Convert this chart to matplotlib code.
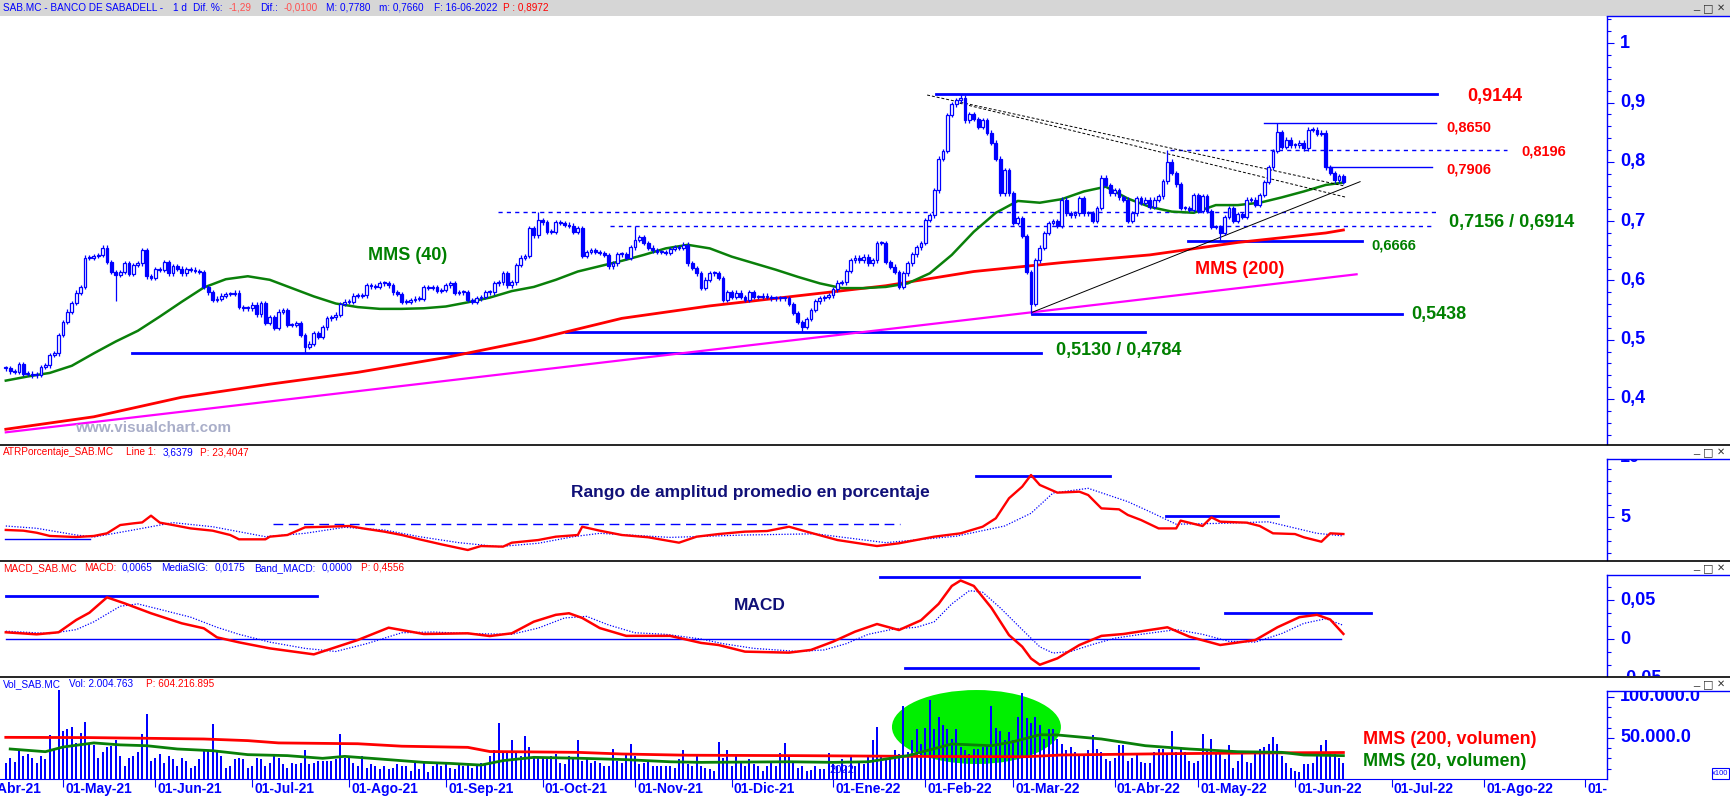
import matplotlib
matplotlib.use("Agg")
import matplotlib.pyplot as plt
import matplotlib.transforms as mtransforms
from matplotlib.patches import Ellipse, Rectangle
from matplotlib.lines import Line2D
import numpy as np
import pandas as pd

W, H = 1730, 799
BLUE, RED, GREEN, NAVY, MAG = "#0000ff", "#ff0000", "#008000", "#101078", "#ff00ff"
FONT = "Liberation Sans"

# ---------------- data ----------------
# daily closes, 14-Apr-2021 .. 16-Jun-2022 (bar 0 .. 304)
closes = [
    0.452, 0.447, 0.446, 0.459, 0.442, 0.443, 0.440, 0.441, 0.454, 0.457,
    0.474, 0.477, 0.508, 0.530, 0.547, 0.562, 0.579, 0.589, 0.638, 0.638,
    0.641, 0.643, 0.655, 0.631, 0.614, 0.609, 0.614, 0.629, 0.611, 0.626,
    0.629, 0.651, 0.607, 0.604, 0.619, 0.618, 0.631, 0.612, 0.624, 0.620,
    0.612, 0.619, 0.618, 0.616, 0.614, 0.589, 0.580, 0.567, 0.569, 0.574,
    0.577, 0.577, 0.579, 0.555, 0.553, 0.553, 0.559, 0.543, 0.562, 0.528,
    0.538, 0.520, 0.547, 0.550, 0.525, 0.525, 0.528, 0.508, 0.488, 0.493,
    0.511, 0.505, 0.521, 0.536, 0.538, 0.542, 0.560, 0.564, 0.564, 0.574,
    0.574, 0.575, 0.592, 0.590, 0.589, 0.595, 0.595, 0.592, 0.580, 0.577,
    0.564, 0.564, 0.567, 0.569, 0.569, 0.589, 0.587, 0.589, 0.582, 0.584,
    0.592, 0.595, 0.579, 0.580, 0.580, 0.567, 0.564, 0.570, 0.572, 0.580,
    0.580, 0.595, 0.597, 0.612, 0.592, 0.597, 0.626, 0.638, 0.641, 0.688,
    0.676, 0.702, 0.698, 0.682, 0.682, 0.698, 0.697, 0.694, 0.692, 0.682,
    0.688, 0.641, 0.648, 0.651, 0.648, 0.646, 0.643, 0.624, 0.629, 0.644,
    0.644, 0.638, 0.656, 0.668, 0.673, 0.663, 0.655, 0.651, 0.648, 0.648,
    0.646, 0.653, 0.656, 0.655, 0.660, 0.629, 0.621, 0.612, 0.587, 0.601,
    0.612, 0.612, 0.604, 0.567, 0.580, 0.572, 0.579, 0.572, 0.567, 0.580,
    0.572, 0.572, 0.574, 0.572, 0.570, 0.570, 0.570, 0.570, 0.560, 0.545,
    0.530, 0.522, 0.535, 0.550, 0.565, 0.570, 0.572, 0.575, 0.585, 0.596,
    0.597, 0.616, 0.634, 0.638, 0.634, 0.640, 0.629, 0.634, 0.663, 0.663,
    0.631, 0.623, 0.614, 0.589, 0.612, 0.629, 0.644, 0.656, 0.663, 0.702,
    0.710, 0.752, 0.805, 0.818, 0.879, 0.897, 0.904, 0.908, 0.870, 0.880,
    0.872, 0.859, 0.870, 0.849, 0.832, 0.805, 0.747, 0.786, 0.747, 0.697,
    0.705, 0.675, 0.614, 0.560, 0.634, 0.655, 0.680, 0.697, 0.700, 0.692,
    0.736, 0.713, 0.710, 0.713, 0.739, 0.713, 0.713, 0.700, 0.722, 0.773,
    0.761, 0.747, 0.752, 0.740, 0.736, 0.700, 0.713, 0.739, 0.731, 0.736,
    0.724, 0.736, 0.742, 0.767, 0.800, 0.781, 0.762, 0.722, 0.722, 0.719,
    0.744, 0.717, 0.742, 0.717, 0.690, 0.690, 0.680, 0.707, 0.722, 0.700,
    0.712, 0.707, 0.736, 0.736, 0.727, 0.744, 0.766, 0.791, 0.818, 0.850,
    0.825, 0.837, 0.828, 0.828, 0.832, 0.823, 0.854, 0.854, 0.847, 0.849,
    0.791, 0.781, 0.769, 0.776, 0.766,
]
# extreme wicks marked on the chart
spike_hi = {121: 0.7156, 143: 0.6914, 217: 0.9144, 264: 0.8196, 289: 0.8650}
spike_lo = {25: 0.565, 68: 0.4784, 181: 0.5130, 233: 0.5438, 276: 0.6666}

# volume (axis units, x100)
vol = [
    20, 25, 21, 35, 28, 30, 26, 20, 28, 24, 54, 37, 108, 59, 61, 63, 44, 56, 69, 43,
    41, 26, 33, 39, 40, 47, 28, 16, 26, 28, 33, 55, 79, 22, 26, 30, 20, 28, 24, 16,
    26, 22, 13, 16, 24, 37, 35, 67, 35, 28, 14, 16, 24, 25, 24, 14, 16, 26, 24, 16,
    20, 30, 26, 18, 14, 20, 18, 20, 35, 18, 20, 22, 22, 22, 22, 24, 55, 26, 26, 20,
    16, 28, 14, 18, 16, 12, 16, 12, 14, 18, 16, 16, 10, 20, 12, 22, 8, 16, 20, 16,
    18, 14, 12, 20, 16, 17, 14, 16, 20, 20, 28, 35, 68, 33, 33, 47, 33, 28, 52, 39,
    28, 26, 26, 24, 28, 30, 20, 18, 28, 26, 48, 22, 24, 20, 22, 20, 16, 16, 36, 22,
    20, 29, 43, 28, 18, 20, 22, 16, 16, 16, 16, 16, 14, 24, 35, 18, 16,
    28, 16, 14, 12, 10, 45, 25, 35, 16, 28, 20, 16, 24, 18, 16, 10, 16, 20, 16, 32,
    44, 29, 20, 14, 16, 10, 11, 16, 12, 12, 32, 18, 16, 24, 16, 29, 16, 22, 18, 28,
    48, 63, 28, 24, 28, 35, 31, 89, 33, 48, 61, 43, 62, 96, 61, 76, 66, 61, 49, 61,
    39, 35, 31, 37, 37, 39, 41, 89, 62, 59, 47, 57, 47, 75, 105, 74, 68, 75, 66, 49,
    61, 61, 49, 43, 35, 39, 33, 28, 28, 35, 54, 37, 33, 24, 22, 25, 41, 41, 22, 25,
    32, 21, 20, 20, 33, 37, 37, 31, 59, 33, 39, 33, 22, 20, 22, 55, 37, 49, 33, 33,
    24, 41, 14, 22, 33, 21, 20, 32, 37, 39, 43, 51, 43, 28, 20, 14, 10, 8, 18, 18,
    20, 28, 41, 47, 33, 31, 25, 20,
]

# moving averages and indicators, sampled along the bars
mms40_i = list(range(0, 301, 5)) + [304]
mms40 = [0.431, 0.438, 0.444, 0.456, 0.477, 0.497, 0.515, 0.539, 0.564, 0.588,
         0.602, 0.607, 0.601, 0.587, 0.573, 0.561, 0.555, 0.552, 0.552, 0.553,
         0.556, 0.563, 0.571, 0.582, 0.589, 0.601, 0.615, 0.624, 0.633, 0.643,
         0.654, 0.660, 0.654, 0.640, 0.629, 0.618, 0.606, 0.595, 0.587, 0.587,
         0.589, 0.595, 0.612, 0.643, 0.682, 0.714, 0.734, 0.731, 0.737, 0.750,
         0.758, 0.738, 0.724, 0.716, 0.714, 0.727, 0.727, 0.731, 0.740, 0.750,
         0.761, 0.765]
mms200_i = [0, 20, 40, 60, 80, 100, 120, 140, 160, 180, 200, 220, 240, 260, 280, 300, 304]
mms200 = [0.349, 0.370, 0.403, 0.425, 0.445, 0.470, 0.500, 0.536, 0.557, 0.574,
          0.591, 0.615, 0.630, 0.643, 0.664, 0.680, 0.685]

atr_i = [0, 4, 7, 10, 16, 20, 23, 26, 29, 31, 33, 35, 38, 42, 47, 51, 53, 59, 60, 64,
         68, 73, 78, 81, 86, 90, 94, 99, 105, 108, 113, 115, 121, 125, 130, 131, 135,
         140, 146, 153, 157, 162, 168, 173, 178, 182, 189, 198, 203, 211, 217, 222,
         225, 228, 231, 233, 235, 239, 244, 246, 249, 253, 255, 258, 262, 266, 267,
         272, 274, 276, 282, 285, 288, 293, 295, 299, 301, 304]
atr = [3.92, 3.86, 3.69, 3.42, 3.33, 3.42, 3.64, 4.33, 4.47, 4.55, 5.11, 4.53, 4.33,
       4.05, 3.86, 3.50, 3.14, 3.14, 3.36, 3.50, 4.14, 4.19, 4.25, 4.06, 3.78, 3.50,
       3.14, 2.72, 2.25, 2.58, 2.53, 2.86, 3.08, 3.36, 3.50, 4.19, 3.86, 3.50, 3.31,
       2.86, 3.36, 3.58, 3.78, 3.83, 4.19, 3.78, 3.08, 2.58, 2.81, 3.36, 3.64, 4.19,
       4.89, 6.56, 7.53, 8.50, 7.67, 7.03, 7.11, 6.83, 5.72, 5.64, 5.17, 4.75, 4.05,
       4.05, 4.70, 4.25, 4.97, 4.61, 4.53, 4.25, 3.64, 3.58, 3.31, 2.94, 3.64, 3.58]
atr_avg_i = [0, 7, 16, 20, 29, 38, 47, 59, 68, 77, 86, 94, 103, 112, 121, 129, 135,
             151, 168, 184, 200, 216, 227, 233, 238, 246, 255, 260, 266, 276, 287,
             298, 304]
atr_avg = [4.25, 4.06, 3.50, 3.33, 3.92, 4.53, 4.19, 3.36, 3.64, 4.14, 3.92, 3.36,
           2.86, 2.53, 2.81, 3.36, 3.64, 3.30, 3.50, 3.60, 2.86, 3.40, 4.25, 5.31,
           7.00, 7.39, 6.28, 5.44, 4.40, 4.47, 4.60, 3.64, 3.42]

macd_i = [0, 7, 12, 16, 19, 23, 27, 33, 40, 45, 48, 53, 60, 70, 80, 87, 95, 105, 110,
          115, 120, 125, 128, 131, 135, 141, 151, 158, 162, 168, 178, 183, 188, 193,
          198, 203, 208, 212, 215, 217, 220, 224, 228, 231, 233, 235, 239, 244, 249,
          254, 264, 269, 276, 284, 289, 294, 298, 301, 304]
macd = [0.0086, 0.0060, 0.0086, 0.0244, 0.0337, 0.0534, 0.0457, 0.0330, 0.0201,
        0.0137, 0.0021, -0.0043, -0.0120, -0.0197, -0.0013, 0.0145, 0.0064, 0.0073,
        0.0038, 0.0073, 0.0222, 0.0310, 0.0330, 0.0270, 0.0140, 0.0040, 0.0040,
        -0.0050, -0.0077, -0.0162, -0.0175, -0.0140, -0.0034, 0.0094, 0.0192, 0.0115,
        0.0240, 0.0450, 0.0680, 0.0750, 0.0680, 0.0400, 0.0050, -0.0098, -0.0250,
        -0.0330, -0.0248, -0.0077, 0.0040, 0.0064, 0.0150, 0.0030, -0.0077, -0.0013,
        0.0150, 0.0280, 0.0310, 0.0250, 0.0065]
sig_i = [0, 10, 16, 20, 26, 30, 35, 42, 48, 53, 60, 68, 75, 82, 90, 97, 105, 115, 121,
         127, 132, 137, 143, 150, 158, 163, 170, 180, 186, 191, 196, 202, 207, 211,
         215, 219, 222, 226, 231, 235, 238, 242, 247, 252, 258, 266, 272, 278, 284,
         290, 295, 300, 304]
sig = [0.0100, 0.0070, 0.0120, 0.0220, 0.0420, 0.0450, 0.0380, 0.0280, 0.0150,
       0.0060, -0.0040, -0.0120, -0.0160, -0.0060, 0.0080, 0.0090, 0.0070, 0.0060,
       0.0140, 0.0270, 0.0290, 0.0180, 0.0080, 0.0060, 0.0000, -0.0060, -0.0120,
       -0.0160, -0.0140, -0.0060, 0.0060, 0.0130, 0.0150, 0.0220, 0.0450, 0.0620,
       0.0600, 0.0400, 0.0120, -0.0100, -0.0180, -0.0160, -0.0070, 0.0010, 0.0060,
       0.0120, 0.0060, -0.0030, -0.0040, 0.0070, 0.0200, 0.0260, 0.0175]

vol200_i = [0, 19, 45, 55, 62, 80, 90, 105, 110, 130, 140, 155, 180, 210, 232, 240, 265, 292, 304]
vol200 = [50.8, 50.5, 48.8, 46.8, 44.0, 43.0, 40.0, 38.6, 33.5, 32.5, 30.5, 29.0,
          28.5, 27.5, 27.2, 29.3, 30.9, 32.0, 32.3]
vol20_i = [1, 9, 13, 20, 26, 32, 39, 47, 55, 64, 72, 77, 85, 95, 101, 108, 113, 120,
           131, 141, 151, 158, 178, 188, 196, 205, 215, 224, 229, 235, 239, 249, 259,
           269, 280, 290, 295, 304]
vol20 = [36.6, 33.3, 39.0, 44.0, 41.6, 40.6, 36.6, 34.5, 29.7, 28.5, 25.2, 27.6,
         24.4, 20.3, 19.0, 17.0, 22.4, 26.4, 25.2, 23.6, 21.0, 20.3, 21.0, 20.3, 21.0,
         28.5, 42.7, 40.6, 45.5, 54.0, 53.7, 48.8, 40.6, 36.6, 33.3, 32.5, 29.3, 28.5]

price_ticks = [0.4, 0.5, 0.6, 0.7, 0.8, 0.9, 1.0]
price_labels = ["0,4", "0,5", "0,6", "0,7", "0,8", "0,9", "1"]
atr_ticks, atr_labels = [5, 10], ["5", "10"]
macd_ticks, macd_labels = [-0.05, 0.0, 0.05], ["-0,05", "0", "0,05"]
vol_ticks, vol_labels = [50, 100], ["50.000.0", "100.000.0"]
MESES = ["Ene", "Feb", "Mar", "Abr", "May", "Jun", "Jul", "Ago", "Sep", "Oct", "Nov", "Dic"]

# trading calendar (bar 0 = 14-Apr-2021)
holidays = pd.to_datetime(["2021-04-02", "2021-04-05", "2022-04-15", "2022-04-18"])
days = pd.bdate_range("2021-04-01", "2022-09-30")
days = days[~days.isin(holidays)]
pos = np.arange(len(days)) - days.get_loc(pd.Timestamp("2021-04-14"))
mon = np.asarray(days.month)
first = np.r_[True, mon[1:] != mon[:-1]]
month_pos = pos[first]
month_lab = ["01-%s-%s" % (MESES[d.month - 1], d.strftime("%y")) for d in days[first]]

# ---------------- figure ----------------
fig = plt.figure(figsize=(W / 100, H / 100), dpi=100)
fig.patch.set_facecolor("white")


def fx(x):
    return x / W


def fy(y):
    return 1 - y / H


def ftext(x, y, s, color, size, bold=True, ha="left", va="center", family=FONT):
    return fig.text(fx(x), fy(y), s, color=color, fontsize=size, ha=ha, va=va,
                    fontweight="bold" if bold else "normal", family=family)


def fline(x0, x1, y0, y1, color, lw=1.0):
    fig.add_artist(Line2D([fx(x0), fx(x1)], [fy(y0), fy(y1)], transform=fig.transFigure,
                          color=color, lw=lw))


XL = (-5.8 / 4.4, (1607 - 5.8) / 4.4)


def panel(y0, y1, ylim, spine_top, major, minor, clip_top, labels):
    ax = fig.add_axes([0, fy(y1), fx(1607), (y1 - y0) / H])
    ax.set_xlim(*XL)
    ax.set_ylim(*ylim)
    for s in ax.spines.values():
        s.set_visible(False)
    sp = ax.spines["right"]
    sp.set_visible(True)
    sp.set_color(BLUE)
    sp.set_linewidth(1.0)
    top_val = ylim[0] + (y1 - spine_top) / (y1 - y0) * (ylim[1] - ylim[0])
    sp.set_bounds(ylim[0], top_val)
    ax.yaxis.tick_right()
    ax.set_yticks([t for t in major if ylim[0] <= t <= top_val])
    ax.set_yticks([t for t in minor if ylim[0] <= t <= top_val], minor=True)
    ax.tick_params(axis="y", which="major", length=5, width=0.8, color=BLUE,
                   labelright=False, direction="out")
    ax.tick_params(axis="y", which="minor", length=3, width=0.8, color=BLUE, direction="out")
    ax.set_xticks([])
    ax.set_ylim(*ylim)
    fline(1607, 1730, spine_top, spine_top, BLUE, 1.0)
    tr = mtransforms.blended_transform_factory(fig.transFigure, ax.transData)
    clip = mtransforms.TransformedBbox(
        mtransforms.Bbox.from_extents(fx(1607), fy(y1), 1.0, fy(clip_top)), fig.transFigure)
    for v, s in zip(major, labels):
        t = fig.text(fx(1620), v, s, transform=tr, color=BLUE, fontsize=13,
                     fontweight="bold", family=FONT, ha="left", va="center")
        t.set_clip_box(clip)
        t.set_clip_on(True)
    return ax


def p_of(y):
    return 0.4 + (399 - y) / 593


def a_of(y):
    return 5 + (517 - y) / 12


def m_of(y):
    return (639 - y) / 780


def v_of(y):
    return (779 - y) * 1.2195


ax_p = panel(17, 444, (p_of(444), p_of(17)), 16, price_ticks,
             np.arange(0.34, 1.05, 0.02), 16, price_labels)
ax_a = panel(446, 560, (a_of(560), a_of(446)), 459, atr_ticks,
             np.arange(2, 11, 1.0), 459, atr_labels)
ax_m = panel(562, 676, (m_of(676), m_of(562)), 575, macd_ticks,
             np.arange(-0.05, 0.1, 0.05 / 3), 575, macd_labels)
ax_v = panel(678, 779, (0, v_of(678)), 691, vol_ticks,
             np.arange(12.5, 115, 12.5), 691, vol_labels)

# ---------------- price panel ----------------
c = np.array(closes)
o = np.r_[c[0], c[:-1]]
idx = np.arange(len(c))
top = np.maximum(o, c)
bot = np.minimum(o, c)
hi = top + 0.004
lo = bot - 0.004
for k, v in spike_hi.items():
    hi[k] = v
for k, v in spike_lo.items():
    lo[k] = v
up = c >= o
ax_p.vlines(idx, lo, hi, color=BLUE, lw=0.9, zorder=4)
body = np.maximum(top - bot, 0.002)
ax_p.bar(idx[up], body[up], bottom=bot[up], width=0.62, facecolor="white",
         edgecolor=BLUE, linewidth=0.9, zorder=5)
ax_p.bar(idx[~up], body[~up], bottom=bot[~up], width=0.62, facecolor=BLUE,
         edgecolor=BLUE, linewidth=0.9, zorder=5)

ax_p.plot(mms200_i, mms200, color=RED, lw=2.0, zorder=3)
ax_p.plot(mms40_i, mms40, color="#0a800a", lw=1.8, zorder=3)
ax_p.plot([0, 307], [0.3438, 0.6103], color=MAG, lw=1.6, zorder=3)
ax_p.plot([233.2, 307.8], [0.546, 0.7665], color="black", lw=0.7, zorder=3)
ax_p.plot([209.4, 304.4], [0.9126, 0.759], color="black", lw=0.7, ls=(0, (3, 2)), zorder=3)
ax_p.plot([215.7, 304.4], [0.9008, 0.7406], color="black", lw=0.7, ls=(0, (3, 2)), zorder=3)

# support / resistance levels: (level, bar from, bar to, width, style)
levels = [
    (0.9144, 211.4, 325.3, 2.0, "-"), (0.8650, 286.0, 325.0, 1.0, "-"),
    (0.8196, 264.6, 341.2, 1.0, (0, (3, 3))), (0.7906, 300.0, 324.1, 1.0, "-"),
    (0.7156, 111.9, 325.0, 1.0, (0, (3, 3))), (0.6914, 137.3, 324.6, 1.0, (0, (3, 3))),
    (0.6666, 268.7, 308.2, 2.0, "-"), (0.5438, 233.2, 317.3, 2.0, "-"),
    (0.5130, 127.3, 258.9, 2.0, "-"), (0.4784, 28.7, 235.3, 2.0, "-"),
]
for lv, x0, x1, lw, ls in levels:
    ax_p.plot([x0, x1], [lv, lv], color=BLUE, lw=lw, ls=ls, zorder=2)

ftext(1467, 97, "0,9144", RED, 13)
ftext(1446, 127, "0,8650", RED, 10.5)
ftext(1521, 152, "0,8196", RED, 10.5)
ftext(1446, 169, "0,7906", RED, 10.5)
ftext(1449, 223, "0,7156 / 0,6914", GREEN, 13)
ftext(1371, 246, "0,6666", GREEN, 10.5)
ftext(1411, 314, "0,5438", GREEN, 13)
ftext(1056, 351, "0,5130 / 0,4784", GREEN, 13)
ftext(368, 255, "MMS (40)", GREEN, 13)
ftext(1195, 270, "MMS (200)", RED, 13)
ftext(75, 428, "www.visualchart.com", "#a9aec9", 11)

# ---------------- ATR panel ----------------
ax_a.plot(atr_i, atr, color=RED, lw=1.7, zorder=3)
ax_a.plot(atr_avg_i, atr_avg, color=BLUE, lw=0.9, ls=(0, (1, 1.3)), zorder=2)
ax_a.plot([-0.2, 19.1], [3.15, 3.15], color=BLUE, lw=1.0)
ax_a.plot([60.7, 203.2], [4.42, 4.42], color=BLUE, lw=1.0, ls=(0, (7, 4)))
ax_a.plot([220.5, 251.0], [8.44, 8.44], color=BLUE, lw=2.0)
ax_a.plot([263.7, 289.1], [5.10, 5.10], color=BLUE, lw=2.0)
ftext(571, 493, "Rango de amplitud promedio en porcentaje", NAVY, 12.5)

# ---------------- MACD panel ----------------
ax_m.plot([0, 303.5], [0, 0], color=BLUE, lw=1.0, zorder=1)
ax_m.plot(sig_i, sig, color=BLUE, lw=0.9, ls=(0, (1, 1.3)), zorder=2)
ax_m.plot(macd_i, macd, color=RED, lw=1.8, zorder=3)
for lv, x0, x1 in [(0.0555, 0, 70.7), (0.0795, 198.7, 257.5),
                   (-0.0368, 204.4, 271.0), (0.0338, 277.1, 310.3)]:
    ax_m.plot([x0, x1], [lv, lv], color=BLUE, lw=2.0)
ftext(734, 606, "MACD", NAVY, 12.5)

# ---------------- volume panel ----------------
ax_v.add_patch(Ellipse((220.6, 63.4), 38.4, 90.2, facecolor="#00f000",
                       edgecolor="none", zorder=1))
ax_v.bar(np.arange(len(vol)), vol, width=0.42, color=BLUE, zorder=2)
ax_v.plot(vol200_i, vol200, color=RED, lw=2.0, zorder=3)
ax_v.plot(vol20_i, vol20, color="#0a800a", lw=2.0, zorder=3)
ax_v.spines["bottom"].set_visible(True)
ax_v.spines["bottom"].set_color(BLUE)
ax_v.set_xticks(month_pos)
ax_v.tick_params(axis="x", length=6, width=0.8, color=BLUE, labelbottom=False, direction="out")
ax_v.set_xlim(*XL)
ax_v.set_ylim(0, v_of(678))
ftext(1363, 739, "MMS (200, volumen)", RED, 13)
ftext(1363, 761, "MMS (20, volumen)", GREEN, 13)
ftext(829, 770, "2022", BLUE, 8, bold=False)

# date labels
trd = mtransforms.blended_transform_factory(ax_v.transData, fig.transFigure)
dclip = mtransforms.TransformedBbox(mtransforms.Bbox.from_extents(0, 0, fx(1607), 1),
                                    fig.transFigure)
for p, s in zip(month_pos, month_lab):
    t = fig.text(p + 0.5, fy(782), s, transform=trd, color=BLUE, fontsize=10,
                 fontweight="bold", family=FONT, ha="left", va="top")
    t.set_clip_box(dclip)
    t.set_clip_on(True)

# x100 box
fig.add_artist(Rectangle((fx(1712), fy(779)), fx(1729) - fx(1712), fy(768) - fy(779),
                         transform=fig.transFigure, facecolor="white", edgecolor=BLUE, lw=0.8))
ftext(1720.5, 773.5, "x100", BLUE, 5.5, bold=False, ha="center")

# ---------------- window chrome ----------------
fig.add_artist(Rectangle((0, fy(16)), 1, 1 - fy(16), transform=fig.transFigure,
                         facecolor="#d6d6d6", edgecolor="none"))
for y in (444.5, 560.5, 676.5):
    fline(0, 1730, y, y, "black", 1.2)
for y in (8, 452, 568, 684):
    ftext(1696, y - 2, "_", "#303030", 8, bold=False, ha="center")
    ftext(1708, y, "\u25a1", "#303030", 8, bold=False, ha="center", family="DejaVu Sans")
    ftext(1721, y, "\u2715", "#303030", 7, bold=False, ha="center", family="DejaVu Sans")

# panel headers: (x, text, colour)
headers = [
    (8, [(3, "SAB.MC - BANCO DE SABADELL -", BLUE), (173, "1 d", BLUE), (193, "Dif. %:", BLUE),
         (229, "-1,29", "#ff5050"), (260, "Dif.:", BLUE), (284, "-0,0100", "#ff5050"),
         (326, "M: 0,7780", BLUE), (379, "m: 0,7660", BLUE), (434, "F: 16-06-2022", BLUE),
         (503, "P : 0,8972", RED)]),
    (452, [(3, "ATRPorcentaje_SAB.MC", RED), (126, "Line 1:", RED), (163, "3,6379", BLUE),
           (200, "P: 23,4047", RED)]),
    (568, [(3, "MACD_SAB.MC", RED), (84, "MACD:", RED), (122, "0,0065", BLUE),
           (161, "MediaSIG:", BLUE), (215, "0,0175", BLUE), (254, "Band_MACD:", BLUE),
           (322, "0,0000", BLUE), (361, "P: 0,4556", RED)]),
    (684, [(3, "Vol_SAB.MC", BLUE), (69, "Vol: 2.004.763", BLUE), (146, "P: 604.216.895", RED)]),
]
for y, parts in headers:
    for x, s, col in parts:
        ftext(x, y, s, col, 7.2, bold=False)

fig.savefig("out.png", dpi=100, facecolor="white")
